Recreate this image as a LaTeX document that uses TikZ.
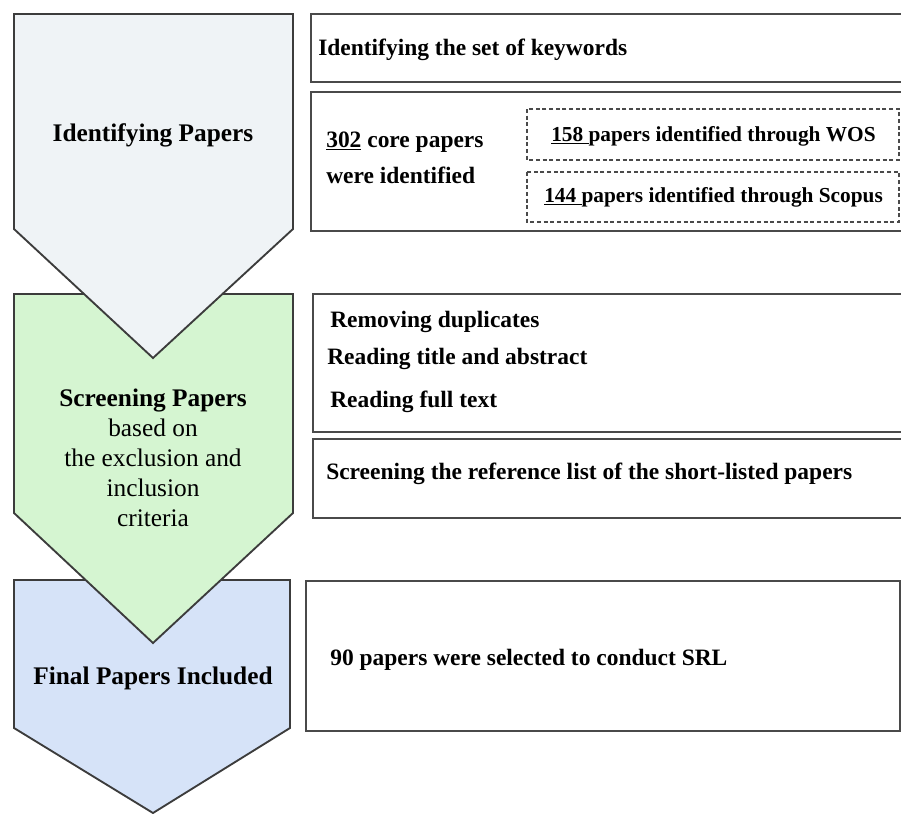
\documentclass[tikz,border=0pt]{standalone}
\usepackage{fontspec}
\setmainfont{Liberation Serif}
\usetikzlibrary{positioning}
\definecolor{stageline}{HTML}{3c3c3c}
\definecolor{panelline}{HTML}{4a4a4a}
\definecolor{identfill}{HTML}{eff3f6}
\definecolor{screenfill}{HTML}{d5f5d1}
\definecolor{finalfill}{HTML}{d6e3f8}

\begin{document}
\begin{tikzpicture}[x=0.75pt, y=-0.75pt, font=\fontsize{17.6}{20}\selectfont\bfseries,
 stage/.style={draw=stageline, line width=1.4pt, line join=miter},
 stagetext/.style={font=\fontsize{19}{22.5}\selectfont\bfseries, align=center},
 panel/.style={draw=panelline, line width=1.5pt},
 subpanel/.style={draw=panelline, line width=1.1pt, dash pattern=on 3pt off 2pt},
 lbl/.style={inner sep=0pt, anchor=west}]
\useasboundingbox (0,0) rectangle (901,814);

% stages, last one first so each tip lies over the next stage
\foreach \t/\s/\b/\r/\c in {580/728/813/290/finalfill, 294/513/643/293/screenfill, 14/229/358/293/identfill}
  {\draw[stage, fill=\c] (14,\t) -- (\r,\t) -- (\r,\s) -- (153,\b) -- (14,\s) -- cycle;}

\node[stagetext] (S1) at (153,135) {Identifying Papers};
\node[stagetext] (S2) at (153,458)
  {Screening Papers\\\mdseries based on\\\mdseries the exclusion and\\\mdseries inclusion\\\mdseries criteria};
\node[stagetext] (S3) at (153,678) {Final Papers Included};

% panels on the right
\foreach \l/\t/\b/\r in {311/14/82/906, 311/92/231/906, 313/294/432/906, 313/439/518/906, 306/581/731/900}
  {\draw[panel] (\l,\t) rectangle (\r,\b);}
\foreach \t/\b in {109/160, 172/222}
  {\draw[subpanel] (527,\t) rectangle (899,\b);}

\node[lbl] (kw) at (318,50) {Identifying the set of keywords};
\node[lbl] (core1) at (326,142) {\underline{302} core papers};
\node[lbl] (core2) at (326,175) {were identified};
\node[lbl, font=\fontsize{16}{19}\selectfont\bfseries] (wos) at (551,136) {\underline{158\ }papers identified through WOS};
\node[lbl, font=\fontsize{16}{19}\selectfont\bfseries] (scopus) at (544,197) {\underline{144\ }papers identified through Scopus};
\node[lbl] (dup) at (330,322) {Removing duplicates};
\node[lbl] (title) at (327,359) {Reading title and abstract};
\node[lbl] (full) at (330,402) {Reading full text};
\node[lbl] (refs) at (326,474) {Screening the reference list of the short-listed papers};
\node[lbl] (srl) at (330,660) {90 papers were selected to conduct SRL};

\end{tikzpicture}
\end{document}
